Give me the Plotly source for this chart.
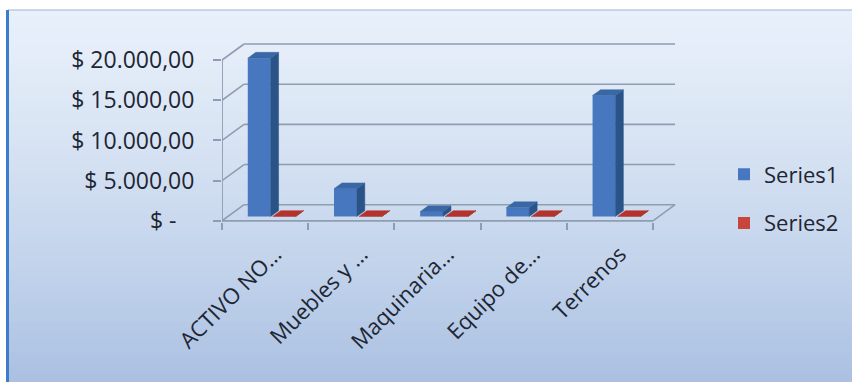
import plotly.graph_objects as go

# ---------------- data ----------------
categories = ["ACTIVO NO…", "Muebles y …", "Maquinaria…", "Equipo de…", "Terrenos"]
series1 = [19700, 3450, 600, 1100, 15050]
series2 = [0, 0, 0, 0, 0]
y_tickvals = [0, 5000, 10000, 15000, 20000]
y_ticktext = ["$ -\u00a0\u00a0\u00a0", "$ 5.000,00", "$ 10.000,00", "$ 15.000,00", "$ 20.000,00"]

# ---------------- geometry (3D look) ----------------
DX, DY = 0.256, 2000          # back-wall offset (x units, y units)
F, BD = 0.27, 0.36            # bar front depth fraction, bar depth fraction
SX, SY = F * DX, F * DY
BDX, BDY = BD * DX, BD * DY
W1, W2 = 0.265, 0.265
OFF1, OFF2 = -0.27 + SX, 0.02 + SX

FW, FH = 852, 382
L, R, T, B = 222, 175, 40, 160
PW, PH = FW - L - R, FH - T - B
XR = [-0.5, -0.5 + PW / 86.2]
YR = [-150, 22500]

def pxx(x):
    return (x - L) / PW

def pxy(y):
    return (FH - B - y) / PH

xs = list(range(len(categories)))

fig = go.Figure()

# bars (front faces)
fig.add_trace(go.Bar(x=xs, y=series1, base=[SY] * len(xs), offset=OFF1, width=W1,
                     name="Series1", marker=dict(color="#4677bf", line=dict(width=0))))
fig.add_trace(go.Bar(x=xs, y=series2, base=[SY] * len(xs), offset=OFF2, width=W2,
                     name="Series2", marker=dict(color="#c8453c", line=dict(width=0))))

def faces(values, off, w):
    sx, sy, tx, ty = [], [], [], []
    for x, v in zip(xs, values):
        x0, x1 = x + off, x + off + w
        b, t = SY, SY + v
        sx += [x1, x1 + BDX, x1 + BDX, x1, x1, None]
        sy += [b, b + BDY, t + BDY, t, b, None]
        tx += [x0, x1, x1 + BDX, x0 + BDX, x0, None]
        ty += [t, t, t + BDY, t + BDY, t, None]
    return sx, sy, tx, ty

for vals, off, w, side_c, top_c in [(series1, OFF1, W1, "#2a5488", "#3a67a6"),
                                    (series2, OFF2, W2, "#8e2a24", "#b3342c")]:
    sx, sy, tx, ty = faces(vals, off, w)
    fig.add_trace(go.Scatter(x=sx, y=sy, mode="lines", fill="toself", fillcolor=side_c,
                             line=dict(width=0.5, color=side_c), showlegend=False, hoverinfo="skip"))
    fig.add_trace(go.Scatter(x=tx, y=ty, mode="lines", fill="toself", fillcolor=top_c,
                             line=dict(width=0.5, color=top_c), showlegend=False, hoverinfo="skip"))

shapes = []
# background gradient bands (paper coords)
top_c = (0xe8, 0xf0, 0xfa)
bot_c = (0xab, 0xc1, 0xe2)
N = 62
y0p, y1p = 10, FH
for i in range(N):
    a = y0p + (y1p - y0p) * i / N
    b2 = y0p + (y1p - y0p) * (i + 1) / N
    t = ((i + 0.5) / N) ** 1.25
    c = tuple(round(top_c[k] + (bot_c[k] - top_c[k]) * t) for k in range(3))
    shapes.append(dict(type="rect", xref="paper", yref="paper", layer="below",
                       x0=pxx(8), x1=pxx(FW + 2), y0=pxy(b2 + 0.5), y1=pxy(a),
                       fillcolor="rgb(%d,%d,%d)" % c, line=dict(width=0)))
# frame
shapes.append(dict(type="line", xref="paper", yref="paper", layer="below",
                   x0=pxx(8), x1=pxx(FW + 2), y0=pxy(10), y1=pxy(10),
                   line=dict(color="#a3aedb", width=1.2)))
shapes.append(dict(type="line", xref="paper", yref="paper", layer="below",
                   x0=pxx(7.5), x1=pxx(7.5), y0=pxy(10), y1=pxy(FH + 2),
                   line=dict(color="#3d7cca", width=3)))

GRID = "#8d9db2"
xl, xr = -0.5, len(categories) - 0.5
for v in y_tickvals:
    # back wall gridline
    shapes.append(dict(type="line", xref="x", yref="y", layer="below",
                       x0=xl + DX, x1=xr + DX, y0=v + DY, y1=v + DY,
                       line=dict(color=GRID, width=1.6)))
    # left wall connector
    shapes.append(dict(type="line", xref="x", yref="y", layer="below",
                       x0=xl, x1=xl + DX, y0=v, y1=v + DY,
                       line=dict(color=GRID, width=1.6)))
# floor right edge and front edge
shapes.append(dict(type="line", xref="x", yref="y", layer="below",
                   x0=xr, x1=xr + DX, y0=0, y1=DY, line=dict(color=GRID, width=1.6)))
shapes.append(dict(type="line", xref="x", yref="y", layer="above",
                   x0=xl, x1=xr, y0=0, y1=0, line=dict(color=GRID, width=1.8)))
# front vertical axis
shapes.append(dict(type="line", xref="x", yref="y", layer="above",
                   x0=xl, x1=xl, y0=-150, y1=max(y_tickvals), line=dict(color=GRID, width=1.8)))

FONT = "Open Sans"
TXT = "#1e2633"
FS = 22

fig.update_layout(
    width=FW, height=FH,
    margin=dict(l=L, r=R, t=T, b=B, pad=0, autoexpand=False),
    paper_bgcolor="white",
    plot_bgcolor="rgba(0,0,0,0)",
    barmode="overlay",
    shapes=shapes,
    font=dict(family=FONT, size=FS, color=TXT),
    showlegend=True,
    legend=dict(x=pxx(724), y=pxy(199), xanchor="left", yanchor="middle",
                bgcolor="rgba(0,0,0,0)", traceorder="grouped",
                font=dict(family=FONT, size=22, color=TXT), tracegroupgap=17,
                itemclick=False, itemdoubleclick=False),
    xaxis=dict(range=XR, showgrid=False, zeroline=False, showline=False,
               tickmode="array", tickvals=xs, ticktext=categories, ticks="",
               tickangle=-45, ticklabelshift=10, ticklabelstandoff=14,
               tickfont=dict(family=FONT, size=FS, color=TXT),
               minor=dict(ticks="outside", tickmode="linear", tick0=-0.5, dtick=1,
                          ticklen=7, tickwidth=1.6, tickcolor=GRID, showgrid=False),
               fixedrange=True),
    yaxis=dict(range=YR, showgrid=False, zeroline=False, showline=False,
               tickmode="array", tickvals=y_tickvals, ticktext=y_ticktext,
               ticks="outside", ticklen=8, tickwidth=1.6, tickcolor=GRID,
               ticklabelstandoff=14, tickfont=dict(family=FONT, size=23, color=TXT),
               fixedrange=True),
)
for i, tr in enumerate(fig.data):
    tr.legendgroup = "g%d" % i

fig.write_html("out.html", config={"displayModeBar": False})
